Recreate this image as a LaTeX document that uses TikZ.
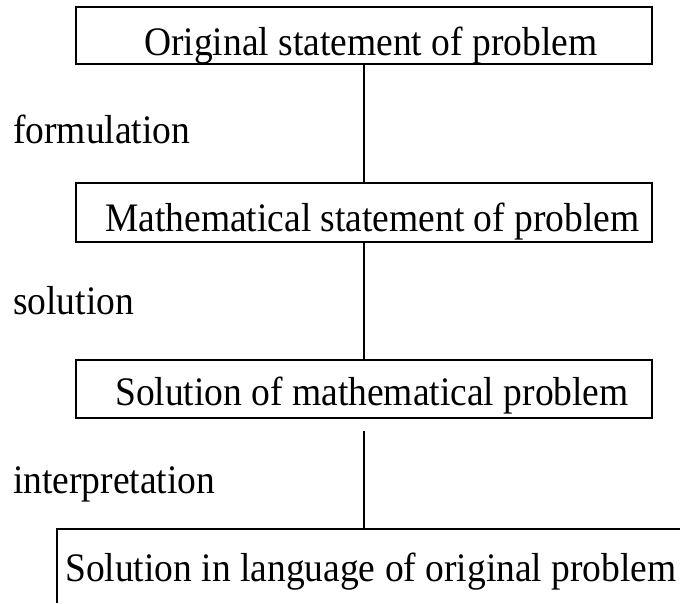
\documentclass[tikz,border=0pt]{standalone}
\usepackage{graphicx}
\usepackage{fontspec}
\setmainfont{Liberation Serif}
\newcommand\mysqz[1]{\scalebox{0.926}[1]{#1}}
\begin{document}
\begin{tikzpicture}[x=1pt,y=-1pt,
  boxstyle/.style={draw=black, line width=1.6pt, minimum width=576pt, inner sep=0pt},
  txt/.style={anchor=base west, inner sep=0pt, font=\fontsize{40.5}{48}\selectfont},
  conn/.style={draw=black, line width=1.3pt}]
\useasboundingbox (0,0) rectangle (680,603);
\node[boxstyle, minimum height=57pt] (b1) at (364,35.5) {};
\node[boxstyle, minimum height=59pt] (b2) at (364,212.5) {};
\node[boxstyle, minimum height=58pt] (b3) at (364,389) {};
\node[txt] (t1) at (144,55) {\mysqz{Original statement of problem}};
\node[txt] (t2) at (105,231) {\mysqz{Mathematical statement of problem}};
\node[txt] (t3) at (115,405) {\mysqz{Solution of mathematical problem}};
\node[txt] (t4) at (65,581) {\mysqz{Solution in language of original problem}};
\node[txt] (l1) at (13,143) {\mysqz{formulation}};
\node[txt] (l2) at (13,314) {\mysqz{solution}};
\node[txt] (l3) at (13,493) {\mysqz{interpretation}};
\coordinate (b4tl) at (57,529);
\coordinate (b4bl) at (57,603);
\coordinate (b4tr) at (680,529);
\coordinate (b4top) at (364,529);
\coordinate (c3s) at (364,431);
\draw[line width=1.6pt] (b4bl) -- (b4tl) -- (b4tr);
\draw[conn] (b1.south) -- (b2.north);
\draw[conn] (b2.south) -- (b3.north);
\draw[conn] (c3s) -- (b4top);
\end{tikzpicture}
\end{document}
